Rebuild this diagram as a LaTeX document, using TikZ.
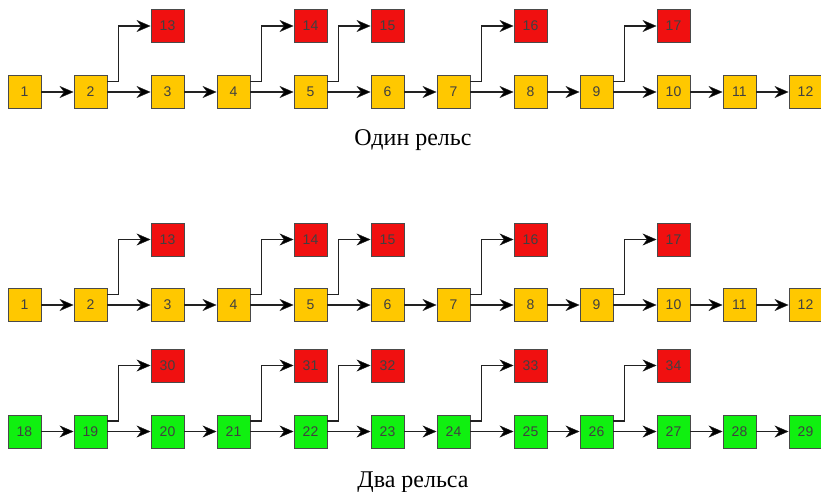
\documentclass[tikz,border=0pt]{standalone}
\usepackage{fontspec}
\setmainfont{Liberation Serif}
\newfontfamily\numfont{Liberation Sans}
\usetikzlibrary{arrows.meta}
\definecolor{boxyellow}{HTML}{FFC800}
\definecolor{boxred}{HTML}{F01010}
\definecolor{boxgreen}{HTML}{10F010}
\definecolor{edgegray}{HTML}{4A4A4A}
\definecolor{wire}{HTML}{222222}
\tikzset{
  cell/.style={draw=edgegray, line width=0.9pt, minimum size=33pt, inner sep=0pt,
    font=\numfont\fontsize{14}{14}\selectfont, text=black!75},
  ycell/.style={cell, fill=boxyellow},
  rcell/.style={cell, fill=boxred},
  gcell/.style={cell, fill=boxgreen},
  link/.style={draw=wire, line width=1.1pt,
    -{Stealth[length=14pt,width=12pt,inset=4.5pt,fill=black,line width=0.4pt]}},
  caption/.style={font=\fontsize{24}{24}\selectfont, anchor=base},
}
\begin{document}
\begin{tikzpicture}[x=1pt, y=-1pt]
\useasboundingbox (0,0) rectangle (821,492);
% column centres of the cells
\def\cols{24.5/1,90.5/2,167.5/3,233.5/4,310.5/5,387.5/6,453.5/7,530.5/8,596.5/9,673.5/10,739.5/11,805.5/12}
% one chain: #1 prefix, #2 main row y, #3 branch row y, #4 main style, #5 first number, #6 first branch number
\newcommand{\chain}[6]{%
  \foreach \cx/\k [evaluate=\k as \n using int(\k+#5-1)] in \cols {
    \node[#4] (#1m\k) at (\cx,#2) {\n};
  }
  \foreach \k in {1,...,11} {
    \pgfmathtruncatemacro{\nx}{\k+1}
    \draw[link] (#1m\k) -- (#1m\nx);
  }
  \foreach \p/\c/\j in {2/3/0,4/5/1,5/6/2,7/8/3,9/10/4} {
    \pgfmathtruncatemacro{\rn}{#6+\j}
    \node[rcell] (#1r\c) at (#1m\c |- 0,#3) {\rn};
    \draw[link] ([yshift=10.5pt]#1m\p.east) -- ++(11pt,0) |- (#1r\c.west);
  }
}
% single rail
\chain{a}{92}{26}{ycell}{1}{13}
\node[caption] (cap1) at (413,145) {Один рельс};
% double rail
\chain{b}{305}{239.5}{ycell}{1}{13}
\chain{c}{431.5}{365.5}{gcell}{18}{30}
\node[caption] (cap2) at (413,487) {Два рельса};
\end{tikzpicture}
\end{document}
